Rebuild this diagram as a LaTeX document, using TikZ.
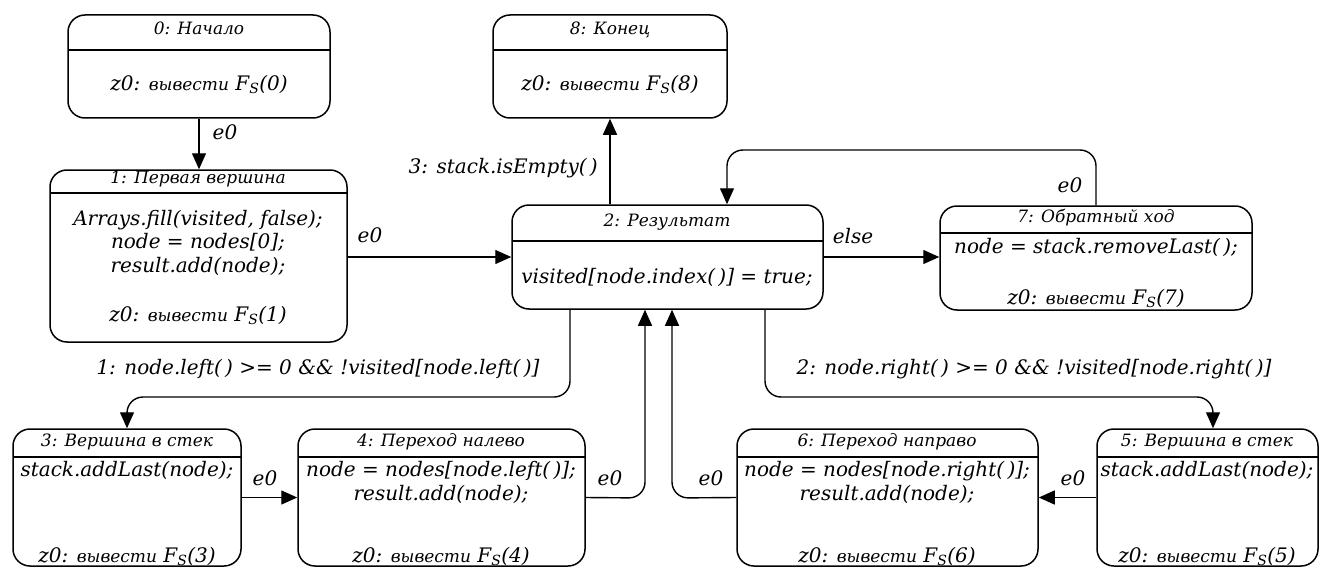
\documentclass[tikz,border=0pt]{standalone}
\usepackage{fontspec}
\setmainfont{DejaVu Serif}
\usetikzlibrary{arrows.meta}

% output of a state: z0 with the symbol F_S(n)
\newcommand\Fs[1]{F\textsubscript{S}(#1)}
\newcommand\zout[1]{z0: {\fontsize{17}{17}\selectfont вывести} \Fs{#1}}

\tikzset{
  stbox/.style={draw, line width=1.5pt, rounded corners=17pt, inner sep=0pt},
  divl/.style={line width=1.5pt},
  ttl/.style={font=\fontsize{17}{19}\selectfont\itshape, inner sep=0pt,
              text height=0.7em, text depth=0.2em},
  txt/.style={font=\fontsize{20}{23.5}\selectfont\itshape, align=center, inner sep=0pt,
              text depth=0.2em},
  lbl/.style={font=\fontsize{20}{22}\selectfont\itshape, inner sep=0pt,
              text height=0.7em, text depth=0.2em},
  arr/.style={line width=1.4pt, -{Triangle[length=16pt,width=14pt]}, rounded corners=16pt},
}

% state box: name, left, top, right, bottom, divider
\newcommand\statebox[6]{%
  \node[stbox, minimum width={#4pt-#2pt}, minimum height={#5pt-#3pt}]
    (#1) at ({(#2+#4)/2},{(#3+#5)/2}) {};
  \draw[divl] (#2,#6) -- (#4,#6);
}

\begin{document}
\begin{tikzpicture}[x=1pt,y=-1pt]
\useasboundingbox (0,0) rectangle (1321,567);

% states
\statebox{s0}{68}{15}{330}{118}{50}
\node[ttl] (s0t) at (199,32) {0: Начало};
\node[txt] (s0b) at (199,84) {\zout{0}};

\statebox{s8}{493}{15}{727}{118}{50}
\node[ttl] (s8t) at (610,32) {8: Конец};
\node[txt] (s8b) at (610,84) {\zout{8}};

\statebox{s1}{50}{170}{347}{342}{193}
\node[ttl] (s1t) at (198,181) {1: Первая вершина};
\node[txt] (s1b) at (198,242) {Arrays.fill(visited, false);\\node = nodes[0];\\result.add(node);};
\node[txt] (s1z) at (198,315) {\zout{1}};

\statebox{s2}{512}{205}{823}{309}{241}
\node[ttl] (s2t) at (667,224) {2: Результат};
\node[txt] (s2b) at (667,277) {visited[node.index(\,)] = true;};

\statebox{s7}{940}{206}{1252}{310}{233}
\node[ttl] (s7t) at (1096,220) {7: Обратный ход};
\node[txt] (s7b) at (1096,247) {node = stack.removeLast(\,);};
\node[txt] (s7z) at (1096,298) {\zout{7}};

\statebox{s3}{13}{429}{241}{566}{457}
\node[ttl] (s3t) at (127,444) {3: Вершина в стек};
\node[txt] (s3b) at (127,470) {stack.addLast(node);};
\node[txt] (s3z) at (127,556) {\zout{3}};

\statebox{s4}{298}{429}{585}{566}{457}
\node[ttl] (s4t) at (441,444) {4: Переход налево};
\node[txt] (s4b) at (441,482) {node = nodes[node.left(\,)];\\result.add(node);};
\node[txt] (s4z) at (441,556) {\zout{4}};

\statebox{s6}{737}{429}{1038}{566}{457}
\node[ttl] (s6t) at (887,444) {6: Переход направо};
\node[txt] (s6b) at (887,482) {node = nodes[node.right(\,)];\\result.add(node);};
\node[txt] (s6z) at (887,556) {\zout{6}};

\statebox{s5}{1097}{429}{1318}{566}{457}
\node[ttl] (s5t) at (1207,444) {5: Вершина в стек};
\node[txt] (s5b) at (1207,470) {stack.addLast(node);};
\node[txt] (s5z) at (1207,556) {\zout{5}};

% bends of the transitions
\coordinate (k7a) at (1096,150);
\coordinate (k7b) at (727,150);
\coordinate (kla) at (570,397);
\coordinate (klb) at (127,397);
\coordinate (kra) at (765,397);
\coordinate (krb) at (1213,397);
\coordinate (k42) at (645,498);
\coordinate (k62) at (672,498);

% transitions
\draw[arr] (s0.south) -- (s0.south |- s1.north);
\draw[arr] (s1.east |- s2.west) -- (s2.west);
\draw[arr] (s2.north -| s8.south) -- (s8.south);
\draw[arr] (s2.east) -- (s2.east -| s7.west);
\draw[arr] (s7.north -| k7a) -- (k7a) -- (k7b) -- (k7b |- s2.north);
\draw[arr] (kla |- s2.south) -- (kla) -- (klb) -- (klb |- s3.north);
\draw[arr] (kra |- s2.south) -- (kra) -- (krb) -- (krb |- s5.north);
\draw[arr] (s3.east) -- (s3.east -| s4.west);
\draw[arr] (s4.east) -- (k42) -- (k42 |- s2.south);
\draw[arr] (s6.west) -- (k62) -- (k62 |- s2.south);
\draw[arr] (s5.west) -- (s5.west -| s6.east);

% transition labels
\node[lbl] (l01) at (225,137) {e0};
\node[lbl] (l12) at (370,240) {e0};
\node[lbl, anchor=east] (l28) at (598,171) {3: stack.isEmpty(\,)};
\node[lbl] (l27) at (853,241) {else};
\node[lbl] (l72) at (1070,190) {e0};
\node[lbl] (l23) at (318,372) {1: node.left(\,) >= 0 \&\& !visited[node.left(\,)]};
\node[lbl] (l25) at (1034,372) {2: node.right(\,) >= 0 \&\& !visited[node.right(\,)]};
\node[lbl] (l34) at (265,483) {e0};
\node[lbl] (l42) at (610,483) {e0};
\node[lbl] (l62) at (711,483) {e0};
\node[lbl] (l56) at (1073,483) {e0};
\end{tikzpicture}
\end{document}
